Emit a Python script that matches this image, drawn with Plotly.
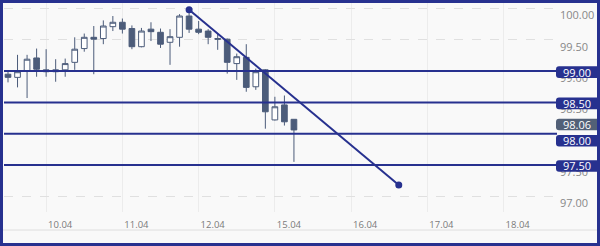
import plotly.graph_objects as go

# ---- data (3-hour candles) ----
times = ["09.04 12:00", "09.04 15:00", "09.04 18:00", "09.04 21:00",
         "10.04 00:00", "10.04 03:00", "10.04 06:00", "10.04 09:00", "10.04 12:00", "10.04 15:00", "10.04 18:00", "10.04 21:00",
         "11.04 00:00", "11.04 03:00", "11.04 06:00", "11.04 09:00", "11.04 12:00", "11.04 15:00", "11.04 18:00", "11.04 21:00",
         "12.04 00:00", "12.04 03:00", "12.04 06:00", "12.04 09:00", "12.04 12:00", "12.04 15:00", "12.04 18:00", "12.04 21:00",
         "15.04 00:00", "15.04 03:00", "15.04 06:00"]
opens  = [98.95, 98.90, 99.00, 99.21, 99.02, 99.02, 99.02, 99.14, 99.36, 99.54, 99.52, 99.71,
          99.78, 99.68, 99.39, 99.67, 99.62, 99.46, 99.54, 99.88,
          99.67, 99.64, 99.52, 99.51, 99.12, 99.22, 98.75, 99.02,
          98.22, 98.46, 98.23]
highs  = [98.99, 99.26, 99.26, 99.36, 99.35, 99.19, 99.20, 99.54, 99.60, 99.72, 99.81, 99.88,
          99.84, 99.73, 99.69, 99.78, 99.68, 99.67, 99.91, 99.98,
          99.80, 99.67, 99.60, 99.52, 99.28, 99.43, 99.04, 99.03,
          98.59, 98.61, 98.23]
lows   = [98.82, 98.74, 98.57, 98.91, 98.91, 98.83, 98.91, 99.02, 99.31, 98.95, 99.43, 99.64,
          99.60, 99.35, 99.38, 99.48, 99.37, 99.10, 99.39, 99.61,
          99.59, 99.43, 99.34, 98.96, 98.86, 98.67, 98.70, 98.08,
          98.21, 98.13, 97.55]
closes = [98.90, 98.99, 99.19, 99.03, 98.99, 98.99, 99.12, 99.35, 99.54, 99.51, 99.72, 99.78,
          99.67, 99.39, 99.64, 99.63, 99.43, 99.55, 99.88, 99.67,
          99.62, 99.54, 99.51, 99.14, 99.23, 98.74, 98.99, 98.35,
          98.43, 98.19, 98.06]
last_price = 98.06

# day labels and the candle slot where each day starts (8 slots per day)
day_labels = ["10.04", "11.04", "12.04", "15.04", "16.04", "17.04", "18.04"]
day_start_slot = [4, 12, 20, 28, 36, 44, 52]

levels = [99.00, 98.50, 98.00, 97.50]
level_label_shift_px = [1, 1, 7, 1]   # label box nudges (collision avoidance)
last_label_shift_px = -5.5

# trend line: slot index and price of both ends
trend_slot = [19, 41]
trend_price = [99.98, 97.18]

y_ticks = [97.0, 97.5, 98.0, 98.5, 99.0, 99.5, 100.0]

# ---- styling ----
W, H = 600, 246
ML, MR, MT, MB = 4, 43, 3, 34
plot_w = W - ML - MR
plot_h = H - MT - MB
X_RANGE = [-0.42, 57.6]
Y_RANGE = [96.749, 100.088]
px_per_price = plot_h / (Y_RANGE[1] - Y_RANGE[0])

BLUE = "#27318f"
CANDLE = "#4c5c7a"
BG = "#f9f9f9"

slots = list(range(len(times)))

fig = go.Figure()
fig.add_trace(go.Candlestick(
    x=slots, open=opens, high=highs, low=lows, close=closes,
    text=times, hoverinfo="text",
    increasing=dict(line=dict(color=CANDLE, width=1), fillcolor="#ffffff"),
    decreasing=dict(line=dict(color=CANDLE, width=1), fillcolor=CANDLE),
    whiskerwidth=0, showlegend=False,
))

fig.add_trace(go.Scatter(
    x=trend_slot, y=trend_price, mode="lines+markers",
    line=dict(color=BLUE, width=2), marker=dict(color=BLUE, size=7),
    showlegend=False, hoverinfo="skip",
))

shapes = []
annotations = []
for lv in levels:
    shapes.append(dict(type="line", xref="paper", yref="y", x0=0, x1=1, y0=lv, y1=lv,
                       line=dict(color=BLUE, width=2), layer="above"))

def px2paper_x(px):
    return (px - ML) / plot_w

def box(price_center, color, text):
    x0 = px2paper_x(556)
    x1 = px2paper_x(599)
    hh = 5.8 / px_per_price
    rx = 3 / plot_w
    ry = 3 / px_per_price
    yt = price_center + hh
    yb = price_center - hh
    path = (f"M{x1},{yt} L{x0+rx},{yt} Q{x0},{yt} {x0},{yt-ry} "
            f"L{x0},{yb+ry} Q{x0},{yb} {x0+rx},{yb} L{x1},{yb} Z")
    shapes.append(dict(type="path", xref="paper", yref="y", path=path,
                       fillcolor=color, line=dict(width=0), layer="above"))
    annotations.append(dict(xref="paper", yref="y", x=px2paper_x(576.5), y=price_center,
                            text=text, showarrow=False, xanchor="center", yanchor="middle",
                            font=dict(color="#ffffff", size=11, family="Open Sans")))

for lv, sh in zip(levels, level_label_shift_px):
    box(lv - sh / px_per_price, BLUE, f"{lv:.2f}")
box(last_price - last_label_shift_px / px_per_price, "#526077", f"{last_price:.2f}")

# separator line under the time labels
sep_y = -(230 - (H - MB)) / plot_h
shapes.append(dict(type="line", xref="paper", yref="paper",
                   x0=-0.02, x1=1.1, y0=sep_y, y1=sep_y,
                   line=dict(color="#dedede", width=1)))
# outer frame
shapes.append(dict(type="rect", xref="paper", yref="paper",
                   x0=px2paper_x(1.5), x1=px2paper_x(598.5),
                   y0=((H - MB) - 244.5) / plot_h, y1=((H - MB) - 1.5) / plot_h,
                   line=dict(color=BLUE, width=3), fillcolor="rgba(0,0,0,0)", layer="above"))

fig.update_layout(
    width=W, height=H,
    margin=dict(l=ML, r=MR, t=MT, b=MB),
    paper_bgcolor=BG, plot_bgcolor=BG,
    shapes=shapes, annotations=annotations,
    boxgap=0.15,
    xaxis=dict(range=X_RANGE, tickvals=day_start_slot, ticktext=day_labels,
               showgrid=True, gridcolor="#ececec", gridwidth=1, zeroline=False,
               rangeslider=dict(visible=False), ticks="", showline=False,
               ticklabelshift=14, ticklabelstandoff=5,
               tickfont=dict(size=9.5, color="#7a7a7a", family="Open Sans")),
    yaxis=dict(range=Y_RANGE, side="right", tickvals=y_ticks,
               ticktext=[f"{v:.2f}" for v in y_ticks],
               showgrid=True, gridcolor="#e0e0e0", griddash="dash", gridwidth=1,
               zeroline=False, ticks="", showline=False, ticklabelshift=7,
               ticklabelstandoff=2, ticklabeloverflow="allow",
               tickfont=dict(size=11, color="#888888", family="Open Sans")),
    hovermode=False,
)

fig.write_html("out.html")
